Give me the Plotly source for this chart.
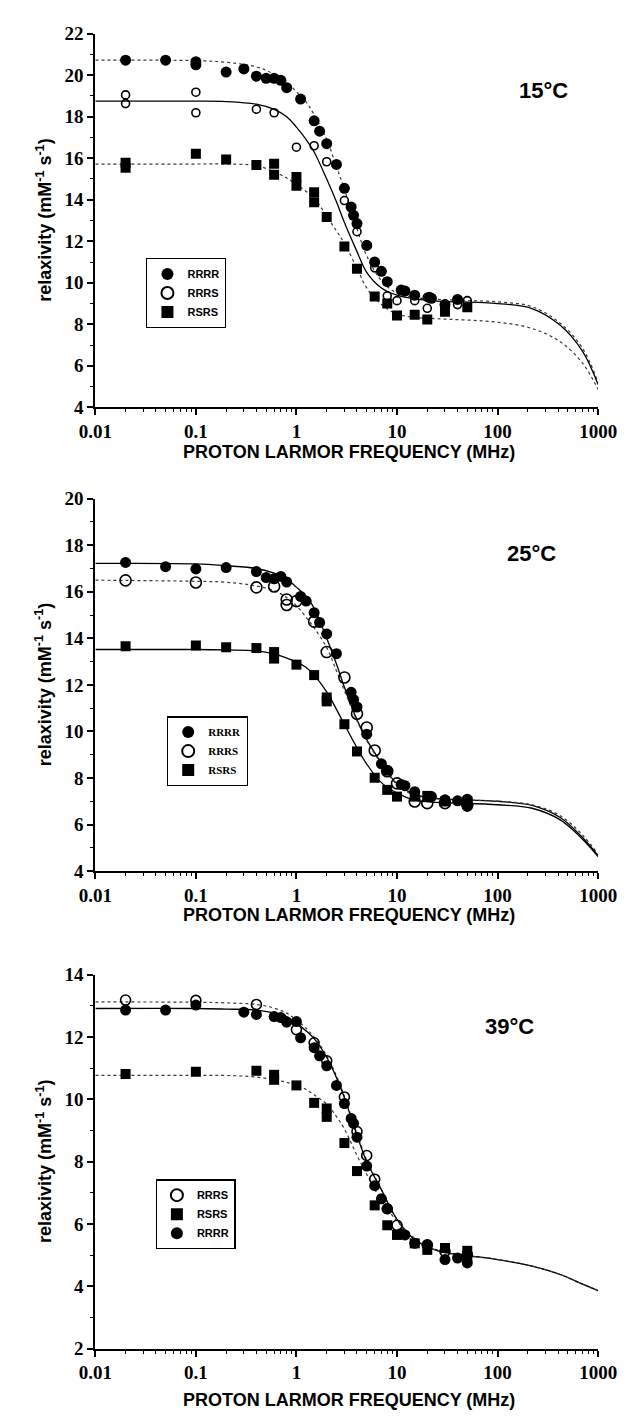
import plotly.graph_objects as go

# ---------------- data ----------------
TICK_X_VALS = [0.01, 0.1, 1, 10, 100, 1000]
TICK_X_TEXT = ["0.01", "0.1", "1", "10", "100", "1000"]
TEMPS = ["15°C", "25°C", "39°C"]

# Panel 1 (15 °C) measured points
P1_RRRR_F = [0.02, 0.05, 0.1, 0.1, 0.2, 0.3, 0.4, 0.5, 0.6, 0.7, 0.8, 1.1, 1.5, 1.7, 2.0, 2.5, 3.0,
             3.5, 3.7, 4.0, 5.0, 6.0, 7.0, 8.0, 11, 12, 15, 21, 22, 30, 40]
P1_RRRR_Y = [20.72, 20.72, 20.65, 20.5, 20.15, 20.3, 19.95, 19.85, 19.85, 19.75, 19.4, 18.85, 17.8,
             17.3, 16.7, 15.7, 14.55, 13.65, 13.25, 12.85, 11.8, 11.0, 10.55, 10.05, 9.65, 9.6, 9.4,
             9.3, 9.25, 8.95, 9.2]
P1_RRRS_F = [0.02, 0.02, 0.1, 0.1, 0.4, 0.6, 1.0, 1.5, 2.0, 3.0, 4.0, 5.0, 6.0, 8.0, 10, 15, 20, 20, 40, 50]
P1_RRRS_Y = [19.05, 18.63, 19.18, 18.19, 18.36, 18.19, 16.53, 16.6, 15.83, 13.96, 12.46, 11.83, 10.72,
             9.37, 9.14, 9.14, 8.77, 9.3, 8.95, 9.14]
P1_RSRS_F = [0.02, 0.02, 0.1, 0.2, 0.4, 0.6, 0.6, 1.0, 1.0, 1.5, 1.5, 2.0, 3.0, 4.0, 6.0, 8.0, 10, 15, 20, 30, 50]
P1_RSRS_Y = [15.78, 15.54, 16.22, 15.94, 15.67, 15.73, 15.2, 15.1, 14.67, 14.36, 13.88, 13.17, 11.75,
             10.67, 9.34, 9.0, 8.42, 8.46, 8.23, 8.61, 8.82]

# Panel 2 (25 °C)
P2_RRRR_F = [0.02, 0.05, 0.1, 0.2, 0.4, 0.5, 0.6, 0.7, 0.8, 1.1, 1.25, 1.5, 1.7, 2.0, 2.5, 3.5, 3.7,
             4.0, 5.0, 7.0, 8.0, 11, 12, 15, 21, 22, 30, 40, 50, 50]
P2_RRRR_Y = [17.26, 17.08, 16.98, 17.04, 16.87, 16.61, 16.56, 16.66, 16.42, 15.8, 15.6, 15.1, 14.68,
             14.19, 13.34, 11.68, 11.37, 11.05, 9.88, 8.61, 8.33, 7.72, 7.67, 7.41, 7.2, 7.2, 7.06,
             7.02, 7.09, 6.78]
P2_RRRS_F = [0.02, 0.1, 0.4, 0.6, 0.8, 0.8, 1.0, 1.5, 2.0, 3.0, 4.0, 5.0, 6.0, 8.0, 10, 15, 20, 30, 50]
P2_RRRS_Y = [16.49, 16.4, 16.19, 16.23, 15.67, 15.43, 15.6, 14.72, 13.41, 12.32, 10.76, 10.17, 9.18,
             8.29, 7.77, 6.99, 6.92, 6.92, 6.85]
P2_RSRS_F = [0.02, 0.1, 0.2, 0.4, 0.6, 0.6, 1.0, 1.5, 2.0, 2.0, 3.0, 4.0, 6.0, 8.0, 10, 15, 20, 30, 50]
P2_RSRS_Y = [13.66, 13.69, 13.62, 13.58, 13.41, 13.13, 12.87, 12.42, 11.46, 11.29, 10.31, 9.14, 8.01,
             7.49, 7.2, 7.2, 7.23, 6.99, 6.99]

# Panel 3 (39 °C)
P3_RRRS_F = [0.02, 0.1, 0.4, 1.0, 1.5, 2.0, 3.0, 4.0, 5.0, 6.0, 8.0, 10, 20, 30, 50]
P3_RRRS_Y = [13.19, 13.18, 13.05, 12.24, 11.82, 11.24, 10.08, 8.97, 8.2, 7.44, 6.49, 5.96, 5.33, 5.12, 5.02]
P3_RSRS_F = [0.02, 0.1, 0.4, 0.6, 0.6, 1.0, 1.5, 2.0, 2.0, 3.0, 4.0, 6.0, 8.0, 10, 15, 20, 30, 50, 50]
P3_RSRS_Y = [10.82, 10.89, 10.92, 10.79, 10.63, 10.45, 9.89, 9.71, 9.44, 8.6, 7.7, 6.6, 5.96, 5.65,
             5.38, 5.17, 5.23, 5.14, 4.95]
P3_RRRR_F = [0.02, 0.05, 0.1, 0.3, 0.4, 0.6, 0.7, 0.8, 1.0, 1.1, 1.5, 1.7, 2.0, 2.5, 3.0, 3.5, 3.7,
             4.0, 5.0, 6.0, 7.0, 8.0, 11, 12, 15, 20, 30, 40, 50]
P3_RRRR_Y = [12.87, 12.87, 13.03, 12.8, 12.73, 12.66, 12.63, 12.48, 12.5, 11.98, 11.66, 11.4, 11.08,
             10.45, 9.87, 9.39, 9.23, 8.79, 7.86, 7.23, 6.81, 6.49, 5.7, 5.65, 5.38, 5.33, 4.86, 4.91, 4.75]

# Fitted curves, read at these frequencies
CURVE_F = [0.01, 0.1, 0.2, 0.4, 0.6, 0.8, 1.0, 1.25, 1.5, 2.0, 2.5, 3.0, 4.0, 5.0, 7.0, 10, 15, 25,
           100, 220, 420, 700, 1000]
C1_RRRR = [20.72, 20.7, 20.62, 20.4, 20.05, 19.65, 19.2, 18.7, 18.1, 16.9, 15.6, 14.5, 12.6, 11.3,
           10.1, 9.5, 9.3, 9.2, 9.08, 8.85, 8.05, 6.85, 5.18]
C1_RRRS = [18.75, 18.75, 18.73, 18.6, 18.35, 18.0, 17.5, 16.9, 16.3, 15.0, 13.9, 12.9, 11.5, 10.5,
           9.75, 9.4, 9.22, 9.12, 9.0, 8.76, 7.95, 6.7, 5.1]
C1_RSRS = [15.72, 15.72, 15.72, 15.64, 15.35, 15.05, 14.75, 14.4, 14.1, 13.2, 12.5, 11.9, 10.7, 9.75,
           8.95, 8.5, 8.33, 8.27, 8.1, 7.8, 7.16, 6.13, 4.86]
C2_RRRR = [17.22, 17.2, 17.12, 17.0, 16.8, 16.55, 16.2, 15.8, 15.3, 14.0, 12.9, 11.9, 10.5, 9.65,
           8.65, 7.75, 7.3, 7.12, 7.0, 6.82, 6.3, 5.44, 4.66]
C2_RRRS = [16.5, 16.45, 16.41, 16.25, 16.05, 15.75, 15.4, 14.9, 14.45, 13.6, 12.6, 11.75, 10.45, 9.6,
           8.6, 7.72, 7.25, 7.1, 7.0, 6.85, 6.38, 5.55, 4.72]
C2_RSRS = [13.52, 13.52, 13.5, 13.46, 13.33, 13.15, 12.99, 12.75, 12.42, 11.7, 10.95, 10.3, 9.3, 8.6,
           7.8, 7.35, 7.05, 6.95, 6.85, 6.7, 6.2, 5.37, 4.62]
C3_RRRS = [13.13, 13.12, 13.1, 13.05, 12.93, 12.77, 12.55, 12.28, 12.0, 11.4, 10.75, 10.1, 8.9, 8.05,
           7.1, 6.15, 5.5, 5.17, 4.86, 4.65, 4.38, 4.07, 3.86]
C3_RRRR = [12.92, 12.92, 12.9, 12.87, 12.78, 12.66, 12.45, 12.2, 11.95, 11.35, 10.7, 10.05, 8.85, 8.0,
           7.1, 6.15, 5.5, 5.15, 4.86, 4.65, 4.38, 4.07, 3.86]
C3_RSRS = [10.77, 10.77, 10.77, 10.72, 10.63, 10.55, 10.46, 10.32, 10.15, 9.85, 9.45, 9.05, 8.2, 7.6,
           6.75, 6.1, 5.55, 5.15, 4.86, 4.65, 4.38, 4.07, 3.86]

# ---------------- figure ----------------
W, H = 636, 1422
X0, X1 = 83, 616
PANELS = [  # (top px, bottom px, y range)
    (24, 403.3, [4, 22]),
    (496, 874, [4, 20]),
    (979.3, 1358.7, [2, 14]),
]
XTITLE_Y = [449, 919, 1411]
XTITLE_X = 352
TEMP_POS = [(558, 82), (545, 552), (522, 1032)]

fig = go.Figure()

SERIF = "Liberation Serif"
SANS = "Liberation Sans"


def pts(name, f, y, sym, size, k, legend, lw=0):
    ax = "" if k == 1 else str(k)
    fig.add_trace(go.Scatter(
        x=f, y=y, mode="markers", name=name, xaxis="x" + ax, yaxis="y" + ax,
        legend=legend,
        marker=dict(symbol=sym, size=size, color="black",
                    line=dict(color="black", width=lw)),
    ))


def curve(y, k, dash):
    ax = "" if k == 1 else str(k)
    fig.add_trace(go.Scatter(
        x=CURVE_F, y=y, mode="lines", showlegend=False, xaxis="x" + ax, yaxis="y" + ax,
        line=dict(color="black" if dash == "solid" else "#3a3a3a",
                  width=1.3 if dash == "solid" else 1.2, dash=dash, shape="spline", smoothing=1.0),
        hoverinfo="skip",
    ))


# panel 1
curve(C1_RRRR, 1, "dot")
curve(C1_RRRS, 1, "solid")
curve(C1_RSRS, 1, "dot")
pts("RRRR", P1_RRRR_F, P1_RRRR_Y, "circle", 11, 1, "legend")
pts("RRRS", P1_RRRS_F, P1_RRRS_Y, "circle-open", 8, 1, "legend", 1.6)
pts("RSRS", P1_RSRS_F, P1_RSRS_Y, "square", 10, 1, "legend")

# panel 2
curve(C2_RRRR, 2, "solid")
curve(C2_RRRS, 2, "dot")
curve(C2_RSRS, 2, "solid")
pts("RRRR", P2_RRRR_F, P2_RRRR_Y, "circle", 11, 2, "legend2")
pts("RRRS", P2_RRRS_F, P2_RRRS_Y, "circle-open", 11, 2, "legend2", 1.6)
pts("RSRS", P2_RSRS_F, P2_RSRS_Y, "square", 10, 2, "legend2")

# panel 3
curve(C3_RRRS, 3, "dot")
curve(C3_RRRR, 3, "solid")
curve(C3_RSRS, 3, "dot")
pts("RRRS", P3_RRRS_F, P3_RRRS_Y, "circle-open", 10, 3, "legend3", 1.6)
pts("RSRS", P3_RSRS_F, P3_RSRS_Y, "square", 10, 3, "legend3")
pts("RRRR", P3_RRRR_F, P3_RRRR_Y, "circle", 11, 3, "legend3")

minor_x = [m * 10 ** e for e in range(-2, 3) for m in range(2, 10)]

layout = dict(
    width=W, height=H, margin=dict(l=0, r=0, t=0, b=0),
    paper_bgcolor="white", plot_bgcolor="white", showlegend=True,
)
annotations = []
for i, (top, bot, yr) in enumerate(PANELS):
    k = i + 1
    ax = "" if k == 1 else str(k)
    dom_y = [1 - bot / H, 1 - top / H]
    layout["xaxis" + ax] = dict(
        type="log", range=[-2, 3], domain=[X0 / W, X1 / W], anchor="y" + ax,
        showline=True, linecolor="black", linewidth=1.8, mirror=False,
        showgrid=False, zeroline=False,
        tickvals=TICK_X_VALS, ticktext=TICK_X_TEXT, ticks="outside", ticklen=6,
        tickwidth=1.5, tickcolor="black",
        tickfont=dict(family=SERIF, size=19, color="black", weight="bold"),
        minor=dict(tickvals=minor_x, ticks="outside", ticklen=3, tickwidth=1.1, tickcolor="black"),
    )
    layout["yaxis" + ax] = dict(
        range=yr, domain=dom_y, anchor="x" + ax,
        showline=True, linecolor="black", linewidth=1.8,
        showgrid=False, zeroline=False, dtick=2, ticks="outside", ticklen=6,
        tickwidth=1.5, tickcolor="black",
        tickfont=dict(family=SERIF, size=19, color="black", weight="bold"),
        minor=dict(dtick=1, ticks="outside", ticklen=3, tickwidth=1.1, tickcolor="black"),
    )
    annotations.append(dict(
        xref="paper", yref="paper", x=XTITLE_X / W, y=1 - XTITLE_Y[i] / H,
        xanchor="center", yanchor="middle", showarrow=False,
        text="PROTON LARMOR FREQUENCY (MHz)",
        font=dict(family=SANS, size=18, color="black", weight="bold"),
    ))
    annotations.append(dict(
        xref="paper", yref="paper", x=29 / W, y=1 - (top + bot) / 2 / H,
        xanchor="center", yanchor="middle", showarrow=False, textangle=-90,
        text="relaxivity (mM<sup>-1</sup> s<sup>-1</sup>)",
        font=dict(family=SANS, size=18, color="black", weight="bold"),
    ))
    tx, ty = TEMP_POS[i]
    annotations.append(dict(
        xref="paper", yref="paper", x=tx / W, y=1 - ty / H,
        xanchor="center", yanchor="middle", showarrow=False, text=TEMPS[i],
        font=dict(family=SANS, size=22, color="black", weight="bold"),
    ))
layout["annotations"] = annotations

LEG = [("legend", 137, 252, SANS, 11), ("legend2", 159, 717, SERIF, 11), ("legend3", 147, 1187, SANS, 11)]
for key, lx, ly, fam, fs in LEG:
    layout[key] = dict(
        x=lx / W, y=1 - ly / H, xanchor="left", yanchor="top",
        bordercolor="black", borderwidth=1.2, bgcolor="white",
        font=dict(family=fam, size=fs, color="black", weight="bold"),
        itemwidth=30, tracegroupgap=0, itemsizing="constant",
    )

fig.update_layout(**layout)
fig.write_html("out.html")
